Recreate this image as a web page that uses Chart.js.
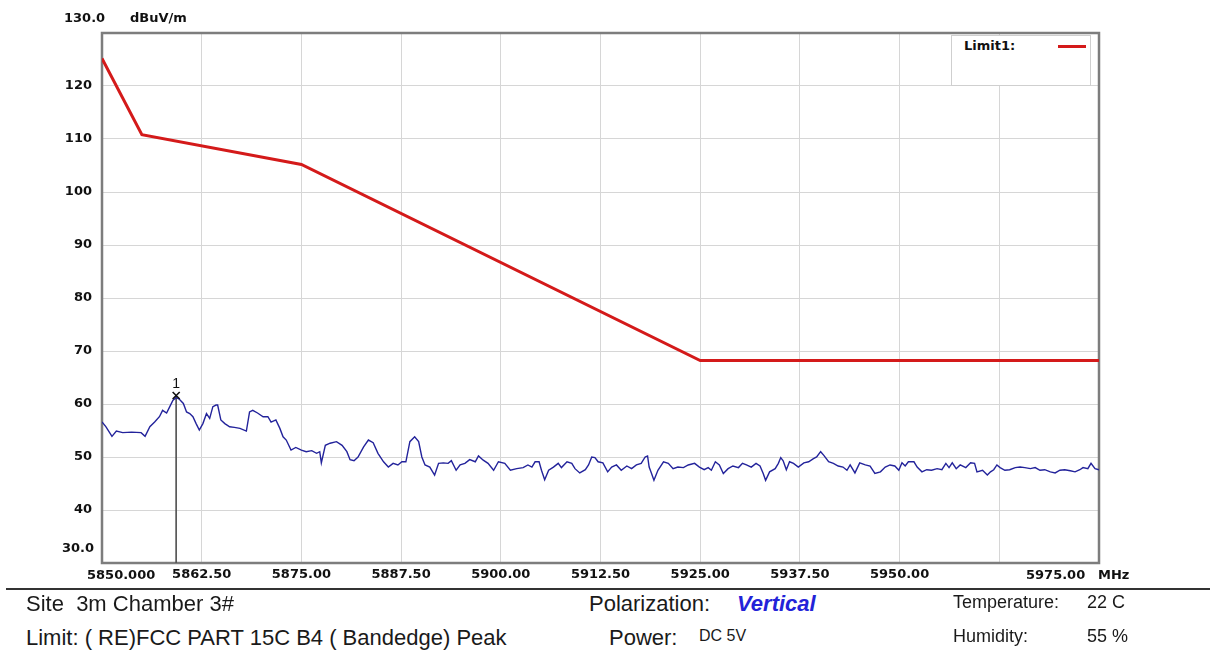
<!DOCTYPE html>
<html>
<head>
<meta charset="utf-8">
<script src="https://cdn.jsdelivr.net/npm/chart.js@4/dist/chart.umd.min.js"></script>
<style>
  html, body { margin:0; padding:0; background:#fff; }
  body { width:1214px; height:654px; position:relative; overflow:hidden; font-family:"Liberation Sans", Arial, sans-serif; }
  #wrap { position:absolute; left:0; top:0; width:1214px; height:590px; }
  .t { position:absolute; white-space:nowrap; line-height:24px; color:#111; }
  .ax { font-family:"DejaVu Sans", sans-serif; font-weight:bold; font-size:13px; color:#111; line-height:20px; }
  .ft { font-size:22px; color:#1a1a1a; }
  .fs { font-size:18px; color:#1a1a1a; }
  #legend { position:absolute; left:951px; top:35px; width:138px; height:49px; background:#fff; border:1px solid #cfcfcf; }
  #hr { position:absolute; left:6px; top:588px; width:1204px; height:2px; background:#333; }
</style>
</head>
<body>
<div id="wrap"><canvas id="c"></canvas></div>

<div class="t ax" style="left:64px; top:8px;">130.0</div>
<div class="t ax" style="left:130px; top:8px;">dBuV/m</div>
<div class="t ax" style="left:62px; top:538px;">30.0</div>
<div class="t ax" style="left:87px; top:565px;">5850.000</div>
<div class="t ax" style="left:1026px; top:565px;">5975.00</div>
<div class="t ax" style="left:1098px; top:565px;">MHz</div>

<div id="legend">
  <div class="t ax" style="left:12px; top:0px;">Limit1:</div>
  <div style="position:absolute; left:106px; top:9px; width:28px; height:3px; background:#d41a1a;"></div>
</div>

<div id="hr"></div>
<div class="t ft" style="left:26px; top:592px;">Site&nbsp; 3m Chamber 3#</div>
<div class="t ft" style="left:26px; top:626px;">Limit: ( RE)FCC PART 15C B4 ( Bandedge) Peak</div>
<div class="t ft" style="left:589px; top:592px;">Polarization:</div>
<div class="t" style="left:737px; top:592px; font-size:22px; font-weight:bold; font-style:italic; color:#2323d8;">Vertical</div>
<div class="t ft" style="left:609px; top:626px;">Power:</div>
<div class="t" style="left:699px; top:624px; font-size:16px; color:#1a1a1a;">DC 5V</div>
<div class="t fs" style="left:953px; top:590px;">Temperature:</div>
<div class="t fs" style="left:1087px; top:590px;">22 C</div>
<div class="t fs" style="left:953px; top:624px;">Humidity:</div>
<div class="t fs" style="left:1087px; top:624px;">55 %</div>

<script>
// ---- Data ----
const xTickValues = [5850, 5862.5, 5875, 5887.5, 5900, 5912.5, 5925, 5937.5, 5950, 5962.5, 5975];
const xTickLabels = ['', '5862.50', '5875.00', '5887.50', '5900.00', '5912.50', '5925.00', '5937.50', '5950.00', '', ''];
const yTickValues = [30, 40, 50, 60, 70, 80, 90, 100, 110, 120, 130];

const limitFreq  = [5850, 5855, 5875, 5925, 5975];
const limitLevel = [125.2, 110.8, 105.2, 68.2, 68.2];

const markerFreq = [5859.3];
const markerLevel = [61.6];
const markerLabel = ['1'];

const traceFreq = [
5850.0, 5850.5, 5851.25, 5851.8, 5852.6, 5853.7, 5854.9, 5855.4, 5856.0, 5856.6, 5857.2, 5857.6, 5858.1, 5858.5, 5858.9, 5859.3, 5859.7, 5860.2, 5860.6, 5861.0, 5861.4, 5861.8, 5862.2, 5862.65, 5863.1, 5863.5, 5863.9, 5864.3, 5864.5, 5864.9, 5865.4, 5866.0, 5866.6, 5867.3, 5868.1, 5868.5, 5868.9, 5869.5, 5870.2, 5870.8, 5871.2, 5871.8, 5872.3, 5872.7, 5873.1, 5873.7, 5874.3, 5875.0, 5875.6,
5876.3, 5876.9, 5877.3, 5877.5, 5878.0, 5878.6, 5879.4, 5880.1, 5880.7, 5881.1, 5881.6, 5882.1, 5882.8, 5883.4, 5884.0, 5884.6, 5885.3, 5885.9, 5886.5, 5887.1, 5887.6, 5888.1, 5888.6, 5889.2, 5889.7, 5890.1, 5890.5, 5891.1, 5891.7, 5892.2, 5892.8, 5893.4, 5893.8, 5894.4, 5894.9, 5895.5, 5896.1, 5896.8, 5897.2, 5897.8, 5898.4, 5899.1, 5899.7,
5900.5, 5901.2, 5902.0, 5902.8, 5903.4, 5903.9, 5904.3, 5904.8, 5905.1, 5905.5, 5906.0, 5906.6, 5907.2, 5907.6, 5908.3, 5908.9, 5909.3, 5909.9, 5910.6, 5911.0, 5911.4, 5911.8, 5912.2, 5912.8, 5913.4, 5913.9, 5914.5, 5915.1, 5915.8, 5916.4, 5917.0, 5917.6, 5918.1, 5918.4, 5918.6, 5918.9, 5919.2, 5919.7, 5920.4, 5921.0, 5921.6, 5922.2, 5922.9, 5923.5, 5924.3, 5924.9,
5925.5, 5926.0, 5926.4, 5926.9, 5927.4, 5927.9, 5928.5, 5929.1, 5929.8, 5930.3, 5930.8, 5931.4, 5932.0, 5932.5, 5932.9, 5933.2, 5933.7, 5934.4, 5934.8, 5935.1, 5935.4, 5935.8, 5936.2, 5936.7, 5937.3, 5938.0, 5938.6, 5939.2, 5939.6, 5940.1, 5940.5, 5941.1, 5941.7, 5942.3, 5942.9, 5943.4, 5943.8, 5944.4, 5945.0, 5945.7, 5946.3, 5946.9, 5947.6, 5948.2, 5948.8, 5949.4, 5949.9,
5950.3, 5950.7, 5951.1, 5951.8, 5952.2, 5952.8, 5953.4, 5954.0, 5954.7, 5955.3, 5955.8, 5956.2, 5956.6, 5957.1, 5957.6, 5958.3, 5958.9, 5959.4, 5959.7, 5960.4, 5961.0, 5961.4, 5961.8, 5962.2, 5962.6, 5963.2, 5963.8, 5964.5, 5965.1, 5965.7, 5966.4, 5967.0, 5967.6, 5968.2, 5968.9, 5969.5, 5970.1, 5970.7, 5971.4, 5972.0, 5972.6, 5973.0, 5973.6, 5974.0, 5974.5, 5975.0
];
const traceLevel = [
56.6, 55.7, 53.9, 54.9, 54.6, 54.7, 54.6, 53.9, 55.7, 56.6, 57.6, 58.8, 58.3, 59.5, 60.7, 61.2, 60.9, 60.1, 58.5, 58.2, 57.6, 56.3, 55.1, 56.3, 58.2, 57.3, 59.5, 59.8, 59.8, 57.0, 56.3, 55.7, 55.6, 55.4, 54.9, 58.5, 58.8, 58.3, 57.6, 57.6, 56.6, 57.0, 55.4, 53.8, 53.2, 51.3, 51.8, 51.3, 51.0,
51.2, 50.7, 51.0, 48.9, 52.2, 52.6, 52.9, 52.2, 51.0, 49.5, 49.3, 50.0, 51.9, 53.2, 52.7, 50.7, 49.1, 48.1, 48.8, 48.5, 49.1, 49.1, 52.9, 53.8, 52.9, 50.0, 48.5, 48.1, 46.6, 48.8, 48.9, 48.8, 49.3, 47.5, 48.5, 48.8, 49.5, 49.1, 50.2, 49.4, 48.8, 47.5, 49.1,
48.8, 47.5, 47.8, 48.0, 48.5, 48.1, 49.1, 49.1, 47.5, 45.7, 47.5, 48.1, 48.8, 48.0, 49.1, 48.8, 47.8, 47.0, 47.6, 48.5, 50.0, 49.9, 49.1, 48.9, 47.2, 48.1, 48.5, 47.5, 48.3, 47.8, 48.5, 48.8, 50.0, 50.2, 48.1, 46.9, 45.6, 47.5, 49.1, 48.8, 47.8, 48.1, 48.0, 48.5, 48.8, 48.1,
47.6, 48.0, 47.5, 49.1, 48.5, 46.9, 47.8, 48.3, 48.0, 48.8, 48.5, 48.1, 48.8, 48.3, 46.9, 45.6, 47.2, 47.8, 48.8, 49.9, 49.3, 47.6, 49.1, 48.8, 48.1, 48.9, 49.1, 49.7, 50.0, 51.0, 50.3, 49.1, 48.8, 48.3, 48.1, 47.5, 48.5, 47.0, 48.9, 48.5, 48.3, 46.9, 47.2, 48.1, 48.5, 48.3, 47.5,
48.9, 48.3, 49.1, 49.1, 48.1, 47.2, 47.6, 47.5, 47.8, 47.6, 48.8, 48.0, 48.9, 47.8, 48.5, 48.0, 48.9, 48.8, 47.2, 47.5, 46.6, 47.2, 47.6, 48.5, 48.0, 47.5, 47.6, 48.0, 48.1, 48.0, 47.8, 48.0, 47.5, 47.6, 47.2, 47.0, 47.5, 47.6, 47.4, 47.2, 47.6, 48.0, 47.8, 48.8, 47.8, 47.6
];

const zip = (xs, ys) => xs.map((x, i) => ({ x: x, y: ys[i] }));

const frame = {
  id: 'frame',
  beforeDatasetsDraw(chart) {
    const a = chart.chartArea, ctx = chart.ctx;
    ctx.save();
    ctx.strokeStyle = '#7d7d7d';
    ctx.lineWidth = 2.5;
    ctx.strokeRect(a.left, a.top, a.right - a.left, a.bottom - a.top);
    ctx.restore();
  },
  afterDatasetsDraw(chart) {
    const ctx = chart.ctx, xs = chart.scales.x, ys = chart.scales.y;
    ctx.save();
    ctx.fillStyle = '#111';
    ctx.font = '14px "Liberation Sans", Arial, sans-serif';
    ctx.textAlign = 'center';
    ctx.textBaseline = 'bottom';
    markerFreq.forEach((f, i) => {
      ctx.fillText(markerLabel[i], xs.getPixelForValue(f), ys.getPixelForValue(markerLevel[i]) - 4);
    });
    ctx.restore();
  }
};

const axisFont = { family: '"DejaVu Sans", sans-serif', size: 13, weight: 'bold' };

new Chart(document.getElementById('c'), {
  type: 'scatter',
  data: {
    datasets: [
      { label: 'Limit1', data: zip(limitFreq, limitLevel), showLine: true, borderColor: '#d41a1a', borderWidth: 3, pointRadius: 0, order: 1 },
      { label: 'Trace', data: zip(traceFreq, traceLevel), showLine: true, borderColor: '#23239b', borderWidth: 1.4, pointRadius: 0, order: 2 },
      { label: 'MarkerLine', data: [{ x: markerFreq[0], y: markerLevel[0] }, { x: markerFreq[0], y: yTickValues[0] }], showLine: true, borderColor: '#555', borderWidth: 1, pointRadius: 0, order: 3 },
      { label: 'Marker', data: zip(markerFreq, markerLevel), pointStyle: 'crossRot', pointRadius: 5, borderColor: '#111', borderWidth: 1.6, order: 0 }
    ]
  },
  options: {
    responsive: true,
    maintainAspectRatio: false,
    animation: false,
    layout: { padding: { top: 33, right: 115, left: 0, bottom: 0 } },
    plugins: { legend: { display: false }, tooltip: { enabled: false } },
    scales: {
      x: {
        type: 'linear', min: 5850, max: 5975,
        afterBuildTicks: (axis) => { axis.ticks = xTickValues.map(v => ({ value: v })); },
        afterFit: (axis) => { axis.height = 27; },
        ticks: {
          autoSkip: false, maxRotation: 0, padding: 4,
          color: '#111', font: axisFont,
          callback: (v, i) => xTickLabels[i]
        },
        grid: { color: '#d6d6d6', lineWidth: 1, drawTicks: false },
        border: { display: false }
      },
      y: {
        min: 30, max: 130,
        afterBuildTicks: (axis) => { axis.ticks = yTickValues.map(v => ({ value: v })); },
        afterFit: (axis) => { axis.width = 102; },
        ticks: {
          padding: 10, color: '#111', font: axisFont,
          callback: (v) => (v === 30 || v === 130) ? '' : String(v)
        },
        grid: { color: '#d6d6d6', lineWidth: 1, drawTicks: false },
        border: { display: false }
      }
    }
  },
  plugins: [frame]
});
</script>
</body>
</html>
